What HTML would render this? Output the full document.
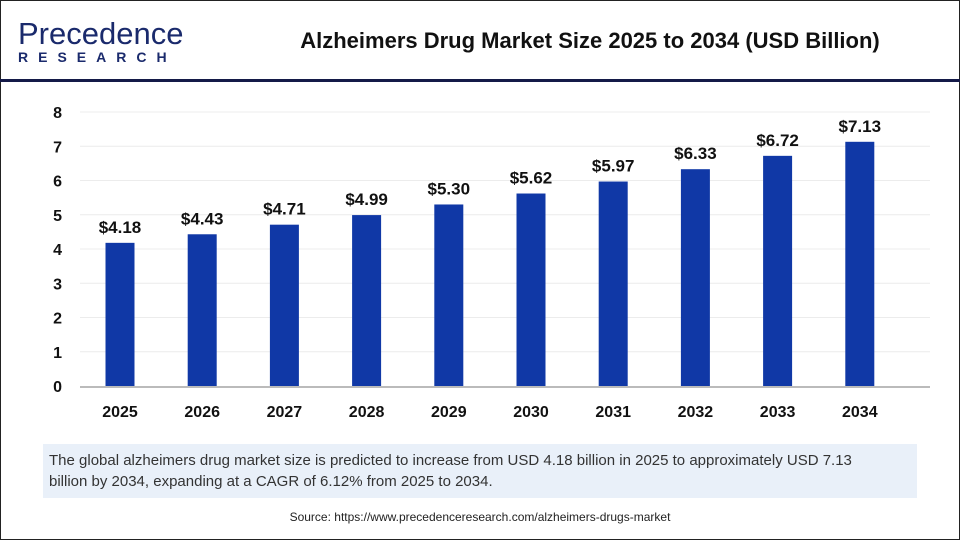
<!DOCTYPE html>
<html><head><meta charset="utf-8"><style>
body{margin:0;width:960px;height:540px;overflow:hidden;background:#fff;font-family:"Liberation Sans",Arial,sans-serif}
#frame{position:absolute;left:0;top:0;width:958px;height:538px;border:1px solid #222}
</style></head><body>
<div id="frame"></div>
<div style="position:absolute;left:18px;top:18px">
 <div style="font-size:31px;color:#1a2a6c;line-height:32px">Precedence</div>
 <div style="font-size:14px;font-weight:bold;color:#1a2a6c;letter-spacing:10px;margin-top:-1px">RESEARCH</div>
</div>
<div style="position:absolute;left:230px;top:28px;width:720px;text-align:center;font-size:22px;font-weight:bold;color:#111">Alzheimers Drug Market Size 2025 to 2034 (USD Billion)</div>
<div style="position:absolute;left:0;top:79px;width:960px;height:3px;background:#141a48"></div>
<svg id="chart" width="960" height="440" style="position:absolute;left:0;top:0"></svg>
<div style="position:absolute;left:43px;top:444px;width:862px;height:42px;padding:6px 6px;background:#e9f0f9;font-size:15px;color:#333;line-height:21px"><div style="width:825px">The global alzheimers drug market size is predicted to increase from USD 4.18 billion in 2025 to approximately USD 7.13 billion by 2034, expanding at a CAGR of 6.12% from 2025 to 2034.</div></div>
<div style="position:absolute;left:0;top:510px;width:960px;text-align:center;font-size:12px;color:#222">Source: https://www.precedenceresearch.com/alzheimers-drugs-market</div>
<script>
const categories=["2025","2026","2027","2028","2029","2030","2031","2032","2033","2034"];
const values=[4.18,4.43,4.71,4.99,5.30,5.62,5.97,6.33,6.72,7.13];
const valueLabels=["$4.18","$4.43","$4.71","$4.99","$5.30","$5.62","$5.97","$6.33","$6.72","$7.13"];
const yTicks=[0,1,2,3,4,5,6,7,8];
const svg=document.getElementById('chart');const NS="http://www.w3.org/2000/svg";
const x0=80,x1=930,yBase=386,yTop=112,yMax=8;
const y=v=>yBase-(v/yMax)*(yBase-yTop);
const step=82.2;
const xc=i=>120+step*i;
function mk(t,a){const e=document.createElementNS(NS,t);for(const k in a)e.setAttribute(k,a[k]);svg.appendChild(e);return e;}
yTicks.forEach(t=>{
 if(t>0){const g=mk('line',{x1:x0,x2:x1,y1:y(t),y2:y(t),stroke:'#ececec','stroke-width':1});
 
 }
 const l=mk('text',{x:62,y:y(t)+6,'text-anchor':'end','font-size':16,'font-weight':'bold',fill:'#111'});l.textContent=t;
 
 
});
const ax=mk('line',{x1:x0,x2:x1,y1:yBase+1,y2:yBase+1,stroke:'#bbb','stroke-width':2});


categories.forEach((c,i)=>{
 const b=mk('rect',{x:xc(i)-14.5,y:y(values[i]),width:29,height:yBase-y(values[i]),fill:'#1038a6'});
 
 
 const v=mk('text',{x:xc(i),y:y(values[i])-10,'text-anchor':'middle','font-size':17,'font-weight':'bold',fill:'#111'});v.textContent=valueLabels[i];
 
 
 const t=mk('text',{x:xc(i),y:417,'text-anchor':'middle','font-size':16,'font-weight':'bold',fill:'#111'});t.textContent=c;
 
 
});
</script>
</body></html>
